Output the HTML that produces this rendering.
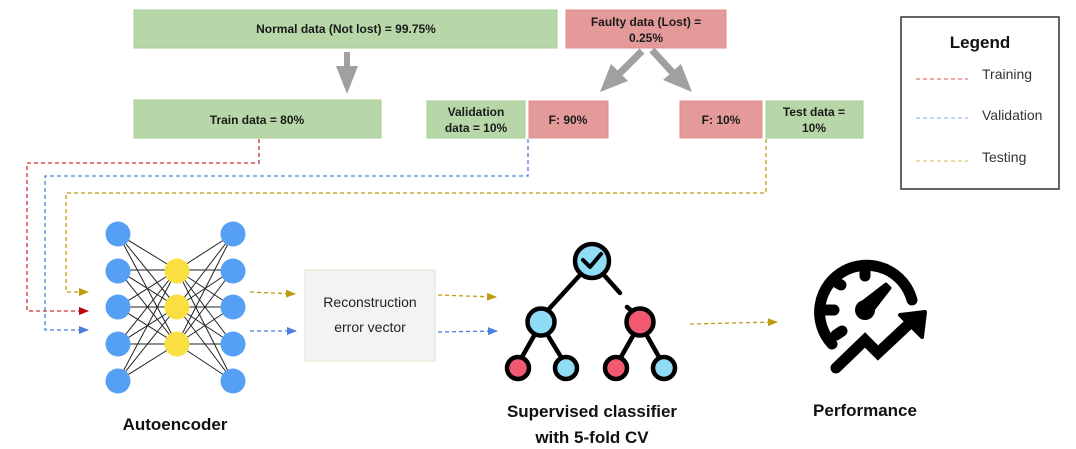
<!DOCTYPE html>
<html><head><meta charset="utf-8"><style>
html,body{margin:0;padding:0;background:#fff;}
svg{display:block;}
text{font-family:"Liberation Sans",Arial,sans-serif;}
</style></head><body>
<svg width="1076" height="449" viewBox="0 0 1076 449" xmlns="http://www.w3.org/2000/svg">
<defs>
<marker id="ar" markerWidth="10" markerHeight="8" refX="9" refY="4" orient="auto" markerUnits="userSpaceOnUse"><path d="M0,0 L10,4 L0,8 z" fill="#c00000"/></marker>
<marker id="ab" markerWidth="10" markerHeight="8" refX="9" refY="4" orient="auto" markerUnits="userSpaceOnUse"><path d="M0,0 L10,4 L0,8 z" fill="#4a7fe0"/></marker>
<marker id="ay" markerWidth="10" markerHeight="8" refX="9" refY="4" orient="auto" markerUnits="userSpaceOnUse"><path d="M0,0 L10,4 L0,8 z" fill="#c09a10"/></marker>
</defs>
<g font-size="12" font-weight="bold" fill="#1a1a1a" text-anchor="middle">
<rect x="134" y="10" width="423" height="38" fill="#b7d7a8" stroke="#a6cf95"/>
<text x="346" y="33">Normal data (Not lost) = 99.75%</text>
<rect x="566" y="10" width="160" height="38" fill="#e59a9a" stroke="#e08c8c"/>
<text x="646" y="26">Faulty data (Lost) =</text><text x="646" y="42">0.25%</text>
<rect x="134" y="100" width="247" height="38" fill="#b7d7a8" stroke="#a6cf95"/>
<text x="257" y="124">Train data = 80%</text>
<rect x="427" y="101" width="98" height="37" fill="#b7d7a8" stroke="#a6cf95"/>
<text x="476" y="116">Validation</text><text x="476" y="132">data = 10%</text>
<rect x="529" y="101" width="79" height="37" fill="#e59a9a" stroke="#e08c8c"/>
<text x="568" y="124">F: 90%</text>
<rect x="680" y="101" width="82" height="37" fill="#e59a9a" stroke="#e08c8c"/>
<text x="721" y="124">F: 10%</text>
<rect x="766" y="101" width="97" height="37" fill="#b7d7a8" stroke="#a6cf95"/>
<text x="814" y="116">Test data =</text><text x="814" y="132">10%</text>
</g>
<g fill="#a0a0a0">
<rect x="344" y="52" width="6" height="14"/><path d="M336,66 L358,66 L347,94 z"/>
</g>
<g stroke="#a0a0a0" stroke-width="7" fill="none"><path d="M642,51 L618,75 M652,50 L673,73"/></g>
<g fill="#a0a0a0"><path d="M611,64 L628,81 L600,92 z"/><path d="M663,80 L681,64 L692,92 z"/></g>
<rect x="901" y="17" width="158" height="172" fill="#fff" stroke="#333" stroke-width="1.5"/>
<text x="980" y="48" font-size="17" font-weight="bold" text-anchor="middle" fill="#111">Legend</text>
<g font-size="14" fill="#333">
<line x1="916" y1="79" x2="968" y2="79" stroke="#e05050" stroke-dasharray="4,3"/><text x="982" y="79">Training</text>
<line x1="916" y1="118" x2="968" y2="118" stroke="#8aa8ee" stroke-dasharray="4,3"/><text x="982" y="120">Validation</text>
<line x1="916" y1="161" x2="968" y2="161" stroke="#d4b455" stroke-dasharray="4,3"/><text x="982" y="162">Testing</text>
</g>
<g fill="none" stroke-width="1.3" stroke-dasharray="4,3">
<path d="M259,139 V163 H27 V311 H88" stroke="#d03030" marker-end="url(#ar)"/>
<path d="M528,139 V176 H45 V330 H88" stroke="#4a7fe0" marker-end="url(#ab)"/>
<path d="M766,139 V193 H66 V292 H88" stroke="#c09a10" marker-end="url(#ay)"/>
<path d="M250,292 L295,294" stroke="#c09a10" marker-end="url(#ay)"/>
<path d="M250,331 L296,331" stroke="#4a7fe0" marker-end="url(#ab)"/>
<path d="M438,295 L496,297" stroke="#c09a10" marker-end="url(#ay)"/>
<path d="M438,332 L497,331" stroke="#4a7fe0" marker-end="url(#ab)"/>
<path d="M690,324 L777,322" stroke="#c09a10" marker-end="url(#ay)"/>
</g>
<g stroke="#222" stroke-width="1">
<path d="M118,234L177,270M118,234L177,307M118,234L177,344M118,270L177,270M118,270L177,307M118,270L177,344M118,307L177,270M118,307L177,307M118,307L177,344M118,344L177,270M118,344L177,307M118,344L177,344M118,381L177,270M118,381L177,307M118,381L177,344"/>
<path d="M233,234L177,270M233,234L177,307M233,234L177,344M233,270L177,270M233,270L177,307M233,270L177,344M233,307L177,270M233,307L177,307M233,307L177,344M233,344L177,270M233,344L177,307M233,344L177,344M233,381L177,270M233,381L177,307M233,381L177,344"/>
</g>
<g fill="#55a0f5">
<circle cx="118" cy="234" r="12.5"/><circle cx="118" cy="271" r="12.5"/><circle cx="118" cy="307" r="12.5"/><circle cx="118" cy="344" r="12.5"/><circle cx="118" cy="381" r="12.5"/>
<circle cx="233" cy="234" r="12.5"/><circle cx="233" cy="271" r="12.5"/><circle cx="233" cy="307" r="12.5"/><circle cx="233" cy="344" r="12.5"/><circle cx="233" cy="381" r="12.5"/>
</g>
<g fill="#f9e040"><circle cx="177" cy="271" r="12.5"/><circle cx="177" cy="307" r="12.5"/><circle cx="177" cy="344" r="12.5"/></g>
<text x="175" y="430" font-size="17" font-weight="bold" text-anchor="middle" fill="#111">Autoencoder</text>
<rect x="305" y="270" width="130" height="91" fill="#f3f3f3" stroke="#d8e8d0"/>
<text x="370" y="307" font-size="14" text-anchor="middle" fill="#222">Reconstruction</text>
<text x="370" y="332" font-size="14" text-anchor="middle" fill="#222">error vector</text>
<g stroke="#000" stroke-width="4.5" stroke-linecap="round" fill="none">
<path d="M580,275 L548,310 M604,275 L620,293 M627,307 L633,312"/>
<path d="M535,334 L522,357 M547,334 L561,357 M634,334 L621,357 M646,334 L659,357"/>
</g>
<g stroke="#000" stroke-width="4.5">
<circle cx="592" cy="261" r="17" fill="#8fdcf5"/>
<circle cx="541" cy="322" r="13.5" fill="#8fdcf5"/>
<circle cx="640" cy="322" r="13.5" fill="#ef5a72"/>
<circle cx="518" cy="368" r="11" fill="#ef5a72"/>
<circle cx="566" cy="368" r="11" fill="#8fdcf5"/>
<circle cx="616" cy="368" r="11" fill="#ef5a72"/>
<circle cx="664" cy="368" r="11" fill="#8fdcf5"/>
</g>
<path d="M583,260 L590,267 L601,254" stroke="#000" stroke-width="4" fill="none" stroke-linecap="round" stroke-linejoin="round"/>
<text x="592" y="417" font-size="17" font-weight="bold" text-anchor="middle" fill="#111">Supervised classifier</text>
<text x="592" y="443" font-size="17" font-weight="bold" text-anchor="middle" fill="#111">with 5-fold CV</text>
<g stroke="#000" stroke-width="11" stroke-linecap="round" fill="none">
<path d="M832,344 A47,47 0 1 1 912,300"/>
<path d="M865,267 V276 M834,281 L841,285 M826,310 L834,310 M836,335 L842,331"/>
<path d="M836,368 L865,340 L878,353 L911,322"/>
</g>
<path d="M900,315 L925,312 L922,337 z" fill="#000" stroke="#000" stroke-width="4" stroke-linejoin="round"/>
<circle cx="865" cy="310" r="10" fill="#000"/>
<path d="M860,304 L886,284 L890,288 L870,314 z" fill="#000" stroke="#000" stroke-width="3" stroke-linejoin="round"/>
<text x="865" y="416" font-size="17" font-weight="bold" text-anchor="middle" fill="#111">Performance</text>
</svg>
</body></html>
